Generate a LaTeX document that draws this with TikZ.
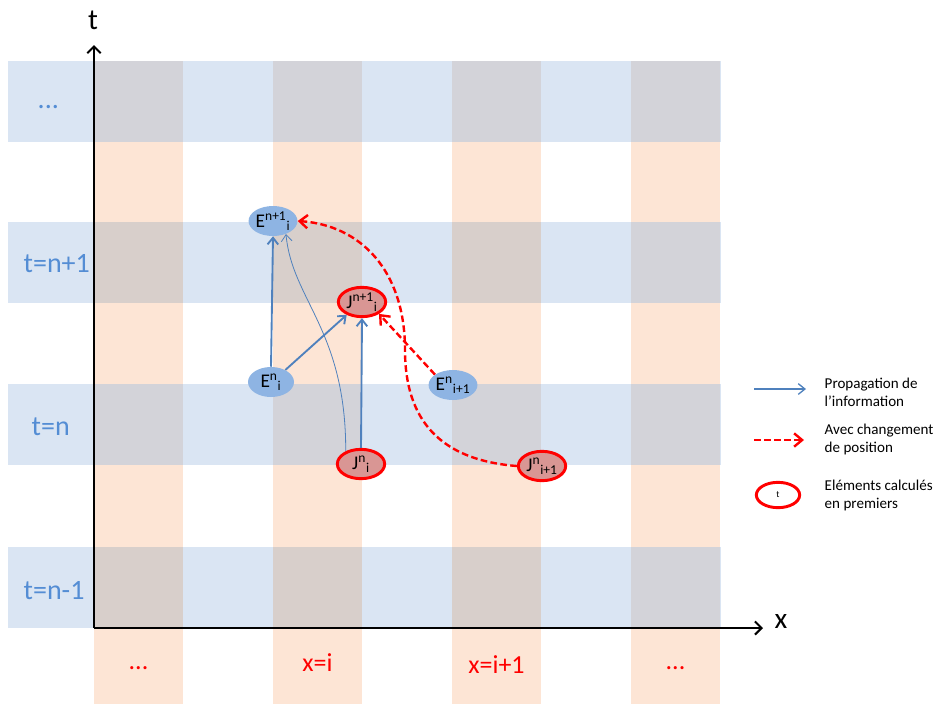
\documentclass[tikz,border=0pt]{standalone}
\usepackage{fontspec}
\setmainfont{Carlito}
\usetikzlibrary{arrows.meta,shapes.geometric}
\definecolor{bandblue}{RGB}{218,229,243}
\definecolor{colorange}{RGB}{253,229,213}
\definecolor{mixwarm}{RGB}{216,207,203}
\definecolor{mixcool}{RGB}{211,211,217}
\definecolor{nodeblue}{RGB}{142,180,227}
\definecolor{nodered}{RGB}{217,150,148}
\definecolor{arrowblue}{RGB}{79,129,189}
\definecolor{labelblue}{RGB}{84,141,212}

\begin{document}
\begin{tikzpicture}[
    x=0.75pt, y=-0.75pt,
    Enode/.style={ellipse, fill=nodeblue, minimum width=34.5pt, minimum height=22.5pt,
                  inner sep=0pt, font=\fontsize{14.5}{15}\selectfont},
    Jnode/.style={ellipse, draw=red, line width=2.2pt, fill=nodered, minimum width=35.5pt,
                  minimum height=22pt, inner sep=0pt, font=\fontsize{14.5}{15}\selectfont},
    prop/.style={draw=arrowblue, line width=1.4pt, -{Straight Barb[length=5pt,width=8pt]}},
    propthin/.style={draw=arrowblue, line width=0.6pt, -{Straight Barb[length=5pt,width=8pt]}},
    move/.style={draw=red, line width=1.8pt, dash pattern=on 5pt off 2.5pt,
                 -{Straight Barb[length=6pt,width=10pt]}},
    axisline/.style={draw=black, line width=1.5pt, -{Straight Barb[length=5pt,width=10pt]}},
    rowlbl/.style={anchor=west, text=labelblue, font=\fontsize{21}{25}\selectfont},
    collbl/.style={text=red, font=\fontsize{19.5}{23}\selectfont},
    leglbl/.style={anchor=west, align=left, font=\fontsize{11.3}{13.5}\selectfont}
]
\useasboundingbox (0,0) rectangle (935,704);

% Grid: orange columns (x) and blue bands (t), 1 unit = 1px
\foreach \xx in {94,273,452,631}
  \fill[colorange] (\xx,61) rectangle (\xx+89,704);
\foreach \yy in {61,222,384,547}
  \fill[bandblue] (8,\yy) rectangle (721,\yy+81);
% Overlaps
\foreach \yy/\mix in {61/mixcool, 222/mixwarm, 384/mixcool, 547/mixwarm} {
  \foreach \xx in {94,273,452}
    \fill[\mix] (\xx,\yy) rectangle (\xx+89,\yy+81);
  \fill[mixcool] (631,\yy) rectangle (720,\yy+81);
}

% Axes
\coordinate (origin) at (94,628);
\coordinate (ttip) at (94,45);
\coordinate (xtip) at (763,628);
\draw[axisline] (origin) -- (ttip);
\draw[axisline] (origin) -- (xtip);
\node[font=\fontsize{22}{26}\selectfont] (tlbl) at (93,20) {t};
\node[font=\fontsize{22}{26}\selectfont] (xlbl) at (781,621) {x};

% Row labels
\node[rowlbl] (rowtop) at (33,107) {...};
\node[rowlbl] (rown1) at (19,264) {t=n+1};
\node[rowlbl] (rown) at (27,427) {t=n};
\node[rowlbl] (rownm1) at (19,591) {t=n-1};

% Column labels
\node[collbl] (colfirst) at (138.5,668) {...};
\node[collbl] (coli) at (317.5,663) {x=i};
\node[collbl] (coli1) at (496.5,665) {x=i+1};
\node[collbl] (collast) at (675.5,668) {...};

% Unknowns
\node[Enode] (En1i) at (273,221) {E\textsuperscript{n+1}\textsubscript{i}};
\node[Jnode] (Jn1i) at (362,302) {J\textsuperscript{n+1}\textsubscript{i}};
\node[Enode] (Eni) at (271,382) {E\textsuperscript{n}\textsubscript{i}};
\node[Enode] (Eni1) at (453,385) {E\textsuperscript{n}\textsubscript{i+1}};
\node[Jnode] (Jni) at (361,464) {J\textsuperscript{n}\textsubscript{i}};
\node[Jnode] (Jni1) at (542,466) {J\textsuperscript{n}\textsubscript{i+1}};

% Propagation
\draw[prop] (Eni.north) -- (En1i.south);
\draw[prop] (Eni.40) -- (Jn1i.-140);
\draw[prop] (Jni.north) -- (Jn1i.south);
\draw[propthin] (Jni.140) .. controls (346,330) and (292,300) .. (En1i.-45);

% Change of position
\draw[move] (Eni1.150) -- (Jn1i.-35);
\draw[move] (Jni1.west) .. controls (440,460) and (405,420) .. (405,350)
            .. controls (405,270) and (360,225) .. (En1i.east);

% Legend
\coordinate (legpa) at (754,389);
\coordinate (legpb) at (806,389);
\draw[prop, line width=1pt] (legpa) -- (legpb);
\node[leglbl] (legp) at (820,392) {Propagation de\\l’information};
\coordinate (legma) at (754,440);
\coordinate (legmb) at (804,440);
\draw[move] (legma) -- (legmb);
\node[leglbl] (legm) at (820,439) {Avec changement\\de position};
\node[ellipse, draw=red, line width=2.2pt, fill=white, minimum width=32.5pt,
      minimum height=19pt, inner sep=0pt, font=\fontsize{7}{8}\selectfont] (legj) at (778,495) {t};
\node[leglbl] (legc) at (820,495) {Eléments calculés\\en premiers};
\end{tikzpicture}
\end{document}
